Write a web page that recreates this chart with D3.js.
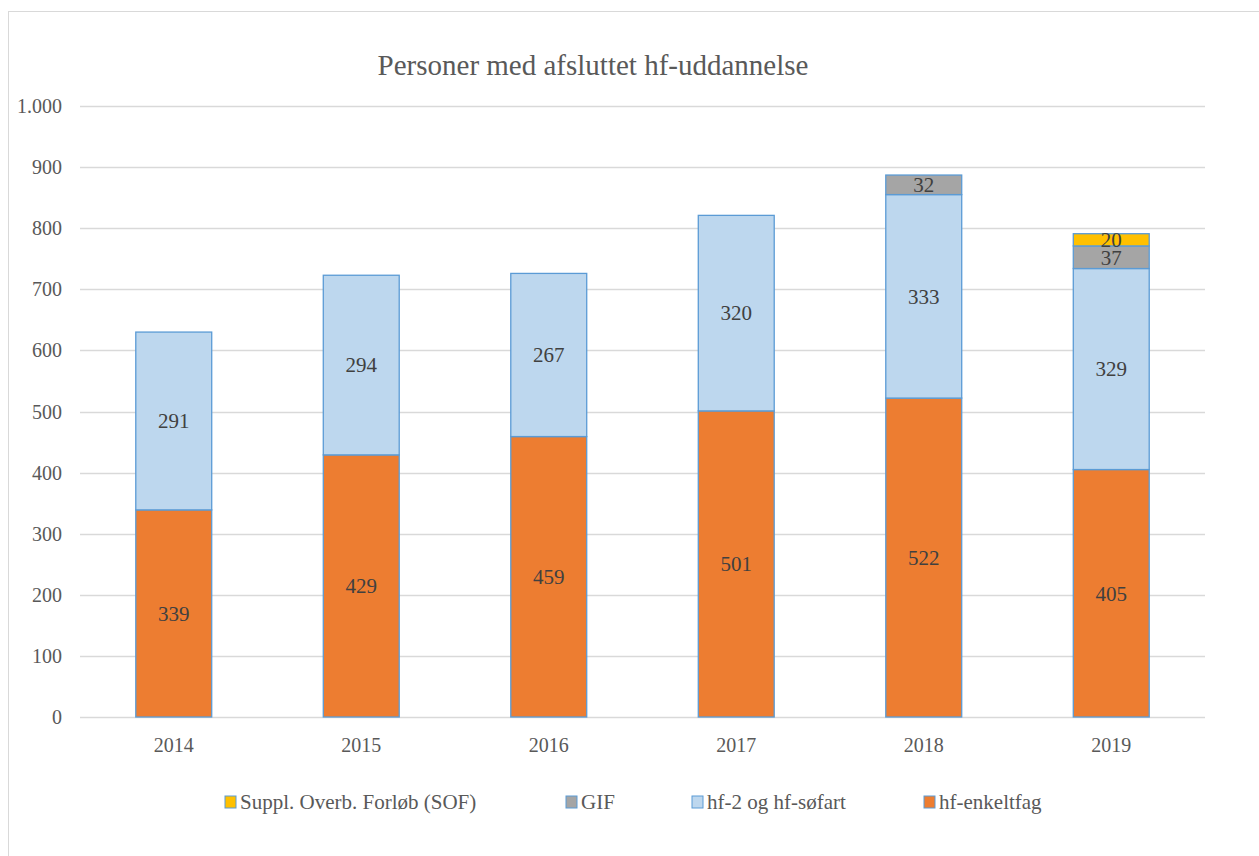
<!DOCTYPE html>
<html>
<head>
<meta charset="utf-8">
<script src="https://cdn.jsdelivr.net/npm/d3@7"></script>
<style>
  body { margin: 0; background: #fff; }
  text { font-family: "Liberation Serif", "DejaVu Serif", serif; fill: #595959; }
</style>
</head>
<body>
<div id="chart"></div>
<script>
const years = ["2014", "2015", "2016", "2017", "2018", "2019"];
const hfEnkeltfag = [339, 429, 459, 501, 522, 405];
const hf2 = [291, 294, 267, 320, 333, 329];
const gif = [0, 0, 0, 0, 32, 37];
const sof = [0, 0, 0, 0, 0, 20];
const yTicks = [0, 100, 200, 300, 400, 500, 600, 700, 800, 900, 1000];

const seriesNames = ["hf-enkeltfag", "hf-2 og hf-søfart", "GIF", "Suppl. Overb. Forløb (SOF)"];
const seriesValues = [hfEnkeltfag, hf2, gif, sof];
const colors = ["#ED7D31", "#BDD7EE", "#A5A5A5", "#FFC000"];

const width = 1259, height = 856;
const margin = { left: 80, right: 54, top: 106, bottom: 139 };

const svg = d3.select("#chart").append("svg")
  .attr("width", width)
  .attr("height", height);

// outer frame
svg.append("rect")
  .attr("x", 8.5).attr("y", 11.5)
  .attr("width", width - 8).attr("height", height - 11)
  .attr("fill", "none").attr("stroke", "#d9d9d9");

const x = d3.scaleBand()
  .domain(years)
  .range([margin.left, width - margin.right])
  .paddingInner(0.595)
  .paddingOuter(0.2975);

const y = d3.scaleLinear()
  .domain([0, 1000])
  .range([height - margin.bottom, margin.top]);

// gridlines
svg.append("g")
  .selectAll("line")
  .data(yTicks)
  .enter()
  .append("line")
  .attr("x1", margin.left)
  .attr("x2", width - margin.right)
  .attr("y1", d => Math.round(y(d)) + 0.5)
  .attr("y2", d => Math.round(y(d)) + 0.5)
  .attr("stroke", "#d9d9d9")
  .attr("stroke-width", 1.3);

// y tick labels
const fmt = d3.formatLocale({ decimal: ",", thousands: ".", grouping: [3], currency: ["", ""] }).format(",");
svg.append("g")
  .selectAll("text")
  .data(yTicks)
  .enter()
  .append("text")
  .attr("x", 62)
  .attr("y", d => y(d))
  .attr("dy", "0.35em")
  .attr("text-anchor", "end")
  .style("font-size", "20px")
  .text(d => fmt(d));

// stacked data
const table = years.map((yr, i) => {
  const row = { year: yr };
  seriesNames.forEach((s, k) => { row[s] = seriesValues[k][i]; });
  return row;
});
const stacked = d3.stack().keys(seriesNames)(table);

const layers = svg.append("g")
  .selectAll("g")
  .data(stacked)
  .enter()
  .append("g")
  .attr("fill", (d, i) => colors[i]);

layers.selectAll("rect")
  .data(d => d.filter(p => p[1] - p[0] > 0))
  .enter()
  .append("rect")
  .attr("x", d => x(d.data.year))
  .attr("y", d => y(d[1]))
  .attr("width", x.bandwidth())
  .attr("height", d => y(d[0]) - y(d[1]))
  .attr("stroke", "#5B9BD5")
  .attr("stroke-width", 1.3);

// value labels
layers.selectAll("text")
  .data(d => d.filter(p => p[1] - p[0] > 0))
  .enter()
  .append("text")
  .attr("x", d => x(d.data.year) + x.bandwidth() / 2)
  .attr("y", d => (y(d[0]) + y(d[1])) / 2)
  .attr("dy", "0.35em")
  .attr("text-anchor", "middle")
  .style("font-size", "21px")
  .style("fill", "#404040")
  .text(d => d[1] - d[0]);

// x axis labels
svg.append("g")
  .selectAll("text")
  .data(years)
  .enter()
  .append("text")
  .attr("x", d => x(d) + x.bandwidth() / 2)
  .attr("y", 745)
  .attr("dy", "0.35em")
  .attr("text-anchor", "middle")
  .style("font-size", "20px")
  .text(d => d);

// title
svg.append("text")
  .attr("x", 593)
  .attr("y", 65)
  .attr("dy", "0.35em")
  .attr("text-anchor", "middle")
  .style("font-size", "29px")
  .text("Personer med afsluttet hf-uddannelse");

// legend (reverse order like the reference)
const legendX = [225, 566, 692, 924];
const legendOrder = [3, 2, 1, 0];
const legend = svg.append("g")
  .selectAll("g")
  .data(legendOrder)
  .enter()
  .append("g")
  .attr("transform", (d, i) => `translate(${legendX[i]},802)`);

legend.append("rect")
  .attr("x", 0).attr("y", -6)
  .attr("width", 11).attr("height", 12)
  .attr("fill", d => colors[d])
  .attr("stroke", "#5B9BD5")
  .attr("stroke-width", 1);

legend.append("text")
  .attr("x", 15)
  .attr("y", 0)
  .attr("dy", "0.35em")
  .style("font-size", "21px")
  .text(d => seriesNames[d]);
</script>
</body>
</html>
